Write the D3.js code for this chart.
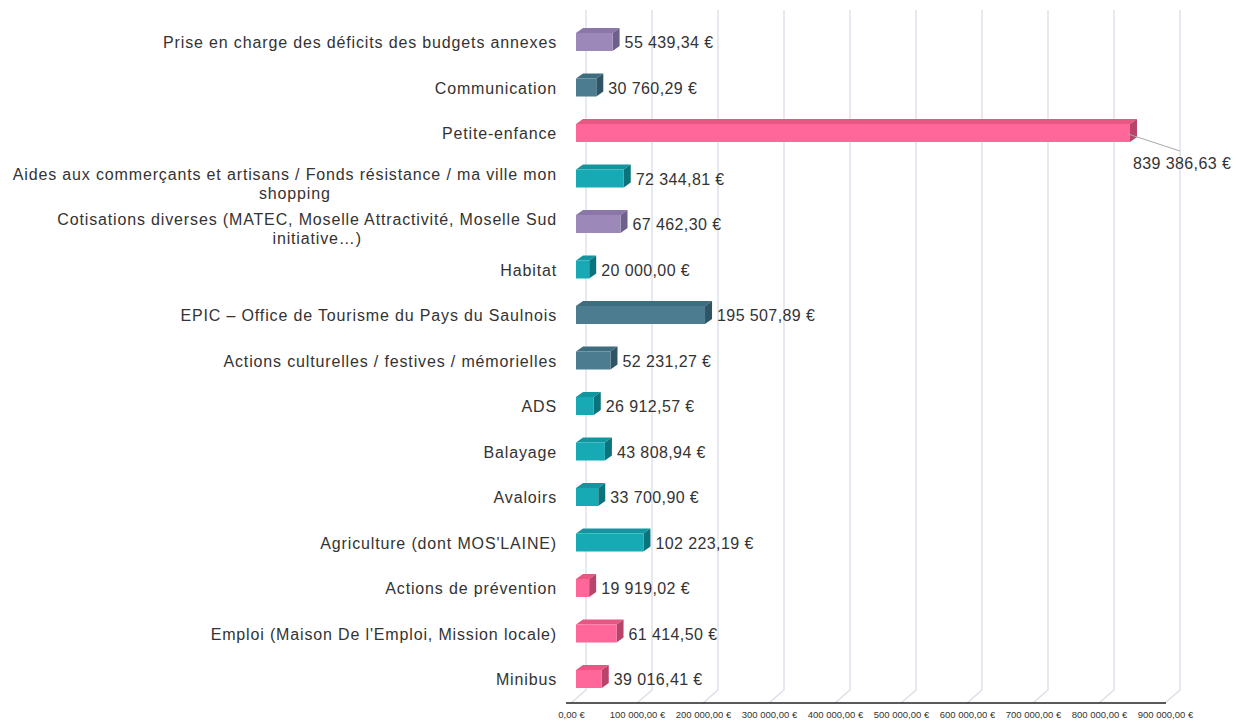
<!DOCTYPE html>
<html>
<head>
<meta charset="utf-8">
<script src="https://cdn.jsdelivr.net/npm/d3@7"></script>
<style>
body { margin: 0; background: #fff; }
text { font-family: "Liberation Sans", Arial, sans-serif; fill: #333; }
</style>
</head>
<body>
<svg id="chart" width="1241" height="724"></svg>
<script>
var categories = [
    "Prise en charge des déficits des budgets annexes",
    "Communication",
    "Petite-enfance",
    "Aides aux commerçants et artisans / Fonds résistance / ma ville mon\nshopping",
    "Cotisations diverses (MATEC, Moselle Attractivité, Moselle Sud\ninitiative…)",
    "Habitat",
    "EPIC – Office de Tourisme du Pays du Saulnois",
    "Actions culturelles / festives / mémorielles",
    "ADS",
    "Balayage",
    "Avaloirs",
    "Agriculture (dont MOS'LAINE)",
    "Actions de prévention",
    "Emploi (Maison De l'Emploi, Mission locale)",
    "Minibus"
]
var values = [55439.34, 30760.29, 839386.63, 72344.81, 67462.30, 20000.00, 195507.89,
    52231.27, 26912.57, 43808.94, 33700.90, 102223.19, 19919.02, 61414.50, 39016.41]
// colour group of each bar
var groups = [0, 1, 2, 3, 0, 3, 1, 1, 3, 3, 3, 3, 2, 2, 2]
var tickValues = [0, 100000, 200000, 300000, 400000, 500000, 600000, 700000, 800000, 900000]

var svg = d3.select("#chart")

var loc = d3.formatLocale({decimal: ",", thousands: " ", grouping: [3], currency: ["", " €"]})
var fmt = loc.format("$,.2f")

// front of floor, bars sit a bit deeper, back wall deeper still
var xFloor = d3.scaleLinear().domain([0, 900000]).range([571, 1165])
var depthBar = 5, depthBack = 15, riseBack = 13
var xBar = function(v) { return xFloor(v) + depthBar }
var y = d3.scalePoint().domain(d3.range(categories.length)).range([42, 679])

var front = ["#9c89b9", "#4b7c8f", "#ff6699", "#17a9b4"]
var top_ = ["#8a77a8", "#3f6d80", "#e65784", "#11959f"]
var side = ["#6f5f8c", "#2f5464", "#b8436b", "#0b737b"]

var floorY = 703
var grid = svg.append("g")
grid.selectAll("path").data(tickValues).enter().append("path")
    .attr("d", function(d) {
        var xb = xFloor(d) + depthBack
        return "M" + xb + ",10V" + (floorY - riseBack) + "L" + xFloor(d) + "," + floorY
    })
    .attr("fill", "none")
    .attr("stroke", "#d9dde8")
    .attr("stroke-width", 1.3)

var axis = svg.append("g")
    .attr("transform", "translate(0," + floorY + ")")
    .call(d3.axisBottom(xFloor).tickValues(tickValues).tickSize(0).tickPadding(8)
        .tickFormat(function(d) { return fmt(d) }))
axis.select(".domain").attr("stroke", "#222").attr("stroke-width", 1.6)
    .attr("d", "M566,0H1166")
axis.selectAll("text").style("font-family", "'Liberation Sans Narrow', 'Liberation Sans', sans-serif")
    .style("font-size", "9.5px").attr("fill", "#333")

var bh = 18, dx = 7, dy = 5
var plotRight = xFloor(900000) + depthBack
var bars = svg.append("g").selectAll("g").data(values).enter().append("g")

bars.append("path")
    .attr("d", function(d, i) {
        var x0 = xBar(0), x1 = xBar(d), t = y(i) - bh / 2
        return "M" + x0 + "," + t + "L" + (x0 + dx) + "," + (t - dy) + "L" + (x1 + dx) + "," + (t - dy) + "L" + x1 + "," + t + "Z"
    })
    .attr("fill", function(d, i) { return top_[groups[i]] })

bars.append("path")
    .attr("d", function(d, i) {
        var x1 = xBar(d), t = y(i) - bh / 2
        return "M" + x1 + "," + t + "L" + (x1 + dx) + "," + (t - dy) + "L" + (x1 + dx) + "," + (t + bh - dy) + "L" + x1 + "," + (t + bh) + "Z"
    })
    .attr("fill", function(d, i) { return side[groups[i]] })

bars.append("rect")
    .attr("x", xBar(0))
    .attr("y", function(d, i) { return y(i) - bh / 2 })
    .attr("width", function(d) { return xBar(d) - xBar(0) })
    .attr("height", bh)
    .attr("fill", function(d, i) { return front[groups[i]] })

// value labels, pushed below with a leader when they would leave the plot
bars.each(function(d, i) {
    var g = d3.select(this)
    var x1 = xBar(d)
    var t = g.append("text")
        .attr("x", x1 + dx + 5)
        .attr("y", y(i) + 6)
        .style("font-size", "16px")
        .style("letter-spacing", "0.4px")
        .text(fmt(d))
    var w = t.node().getComputedTextLength()
    if (x1 + dx + 5 + w > plotRight) {
        t.attr("x", x1 + 3).attr("y", y(i) + 36)
        g.insert("line", "text")
            .attr("x1", x1 - 2).attr("y1", y(i) + 1)
            .attr("x2", x1 + 50).attr("y2", y(i) + 18)
            .attr("stroke", "#aaa").attr("stroke-width", 1)
    }
})

// category labels
var labels = svg.append("g").selectAll("text").data(categories).enter().append("text")
    .style("font-size", "16px")
    .style("letter-spacing", "0.85px")
    .attr("fill", "#333")
labels.each(function(d, i) {
    var lines = d.split("\n")
    var el = d3.select(this)
    if (lines.length == 1) {
        el.attr("x", 557).attr("y", y(i) + 6).attr("text-anchor", "end").text(d)
    } else {
        el.attr("x", 557).attr("y", y(i) + 1).attr("text-anchor", "end").text(lines[0])
        var w = this.getComputedTextLength()
        svg.append("text")
            .attr("x", 557 - w / 2 + 10)
            .attr("y", y(i) + 20)
            .attr("text-anchor", "middle")
            .style("font-size", "16px")
            .style("letter-spacing", "0.85px")
            .text(lines[1])
    }
})
</script>
</body>
</html>
